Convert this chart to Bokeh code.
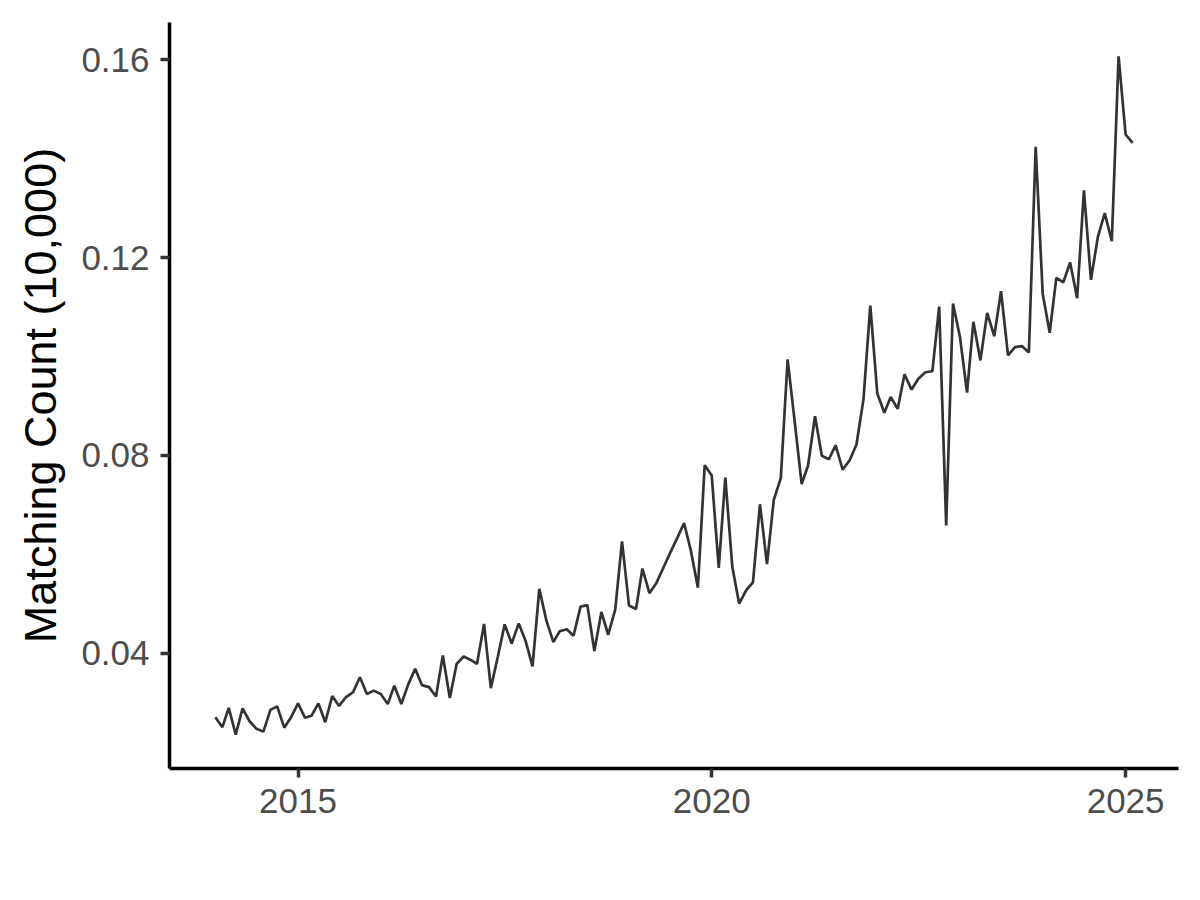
import pandas as pd
from datetime import datetime
from bokeh.plotting import figure
from bokeh.models import Range1d, FixedTicker, NumeralTickFormatter, DatetimeTickFormatter, ColumnDataSource
from bokeh.embed import file_html
from bokeh.resources import INLINE

# Monthly values, Jan 2014 .. Feb 2025
v2014 = [0.0270, 0.0250, 0.0289, 0.0235, 0.0288, 0.0262, 0.0247, 0.0241, 0.0285, 0.0292, 0.0249, 0.0270]
v2015 = [0.0298, 0.0269, 0.0273, 0.0298, 0.0260, 0.0313, 0.0293, 0.0311, 0.0321, 0.0351, 0.0317, 0.0324]
v2016 = [0.0317, 0.0297, 0.0334, 0.0297, 0.0336, 0.0368, 0.0335, 0.0331, 0.0312, 0.0395, 0.0309, 0.0378]
v2017 = [0.0393, 0.0386, 0.0378, 0.0459, 0.0329, 0.0393, 0.0458, 0.0419, 0.0460, 0.0425, 0.0373, 0.0530]
v2018 = [0.0466, 0.0422, 0.0444, 0.0448, 0.0435, 0.0494, 0.0497, 0.0404, 0.0483, 0.0437, 0.0488, 0.0626]
v2019 = [0.0496, 0.0489, 0.0571, 0.0521, 0.0541, 0.0572, 0.0602, 0.0632, 0.0663, 0.0607, 0.0532, 0.0780]
v2020 = [0.0759, 0.0572, 0.0755, 0.0574, 0.0500, 0.0527, 0.0543, 0.0701, 0.0580, 0.0710, 0.0754, 0.0994]
v2021 = [0.0869, 0.0742, 0.0779, 0.0879, 0.0799, 0.0792, 0.0820, 0.0771, 0.0790, 0.0822, 0.0914, 0.1103]
v2022 = [0.0925, 0.0886, 0.0918, 0.0894, 0.0964, 0.0933, 0.0955, 0.0968, 0.0970, 0.1101, 0.0658, 0.1107]
v2023 = [0.1039, 0.0927, 0.1070, 0.0992, 0.1088, 0.1041, 0.1132, 0.1002, 0.1019, 0.1021, 0.1008, 0.1424]
v2024 = [0.1127, 0.1048, 0.1159, 0.1150, 0.1190, 0.1118, 0.1336, 0.1155, 0.1243, 0.1290, 0.1233, 0.1607]
v2025 = [0.1449, 0.1432]

values = v2014 + v2015 + v2016 + v2017 + v2018 + v2019 + v2020 + v2021 + v2022 + v2023 + v2024 + v2025
dates = pd.date_range("2014-01-01", periods=len(values), freq="MS")

y_ticks = [0.04, 0.08, 0.12, 0.16]
x_tick_years = [2015, 2020, 2025]
y_label = "Matching Count (10,000)"

src = ColumnDataSource(dict(x=dates, y=values))

span = dates[-1] - dates[0]
x0 = dates[0] - 0.05 * span
x1 = dates[-1] + 0.05 * span
ymin, ymax = min(values), max(values)
yr = ymax - ymin

p = figure(width=1192, height=892, x_axis_type="datetime", output_backend="svg",
           toolbar_location=None,
           x_range=Range1d(x0, x1), y_range=Range1d(ymin - 0.05 * yr, ymax + 0.05 * yr),
           min_border_left=169, min_border_right=14, min_border_top=22, min_border_bottom=124)

p.line("x", "y", source=src, line_color="#333333", line_width=2.7)

p.xgrid.visible = False
p.ygrid.visible = False
p.outline_line_color = None
p.background_fill_color = "white"
p.border_fill_color = "white"

tick_ms = [datetime(y, 1, 1).timestamp() * 1000 for y in x_tick_years]
p.xaxis.ticker = FixedTicker(ticks=tick_ms)
p.xaxis.formatter = DatetimeTickFormatter(years="%Y", months="%Y", days="%Y", hours="%Y",
                                          hourmin="%Y", minutes="%Y", minsec="%Y", seconds="%Y",
                                          milliseconds="%Y", microseconds="%Y")
p.yaxis.ticker = FixedTicker(ticks=y_ticks)
p.yaxis.formatter = NumeralTickFormatter(format="0.00")

for ax in (p.xaxis[0], p.yaxis[0]):
    ax.axis_line_color = "black"
    ax.axis_line_width = 3.5
    ax.major_tick_line_color = "#333333"
    ax.major_tick_line_width = 3.5
    ax.major_tick_out = 9
    ax.major_tick_in = 0
    ax.minor_tick_line_color = None
    ax.major_label_text_font = "Liberation Sans"
    ax.major_label_text_font_size = "35px"
    ax.major_label_text_color = "#4D4D4D"

p.xaxis.major_label_standoff = 11
p.yaxis.major_label_standoff = 11
p.yaxis.axis_label = y_label
p.yaxis.axis_label_text_font = "Liberation Sans"
p.yaxis.axis_label_text_font_size = "45px"
p.yaxis.axis_label_text_font_style = "normal"
p.yaxis.axis_label_text_color = "black"
p.yaxis.axis_label_standoff = 12

open("out.html", "w").write(file_html(p, INLINE))
